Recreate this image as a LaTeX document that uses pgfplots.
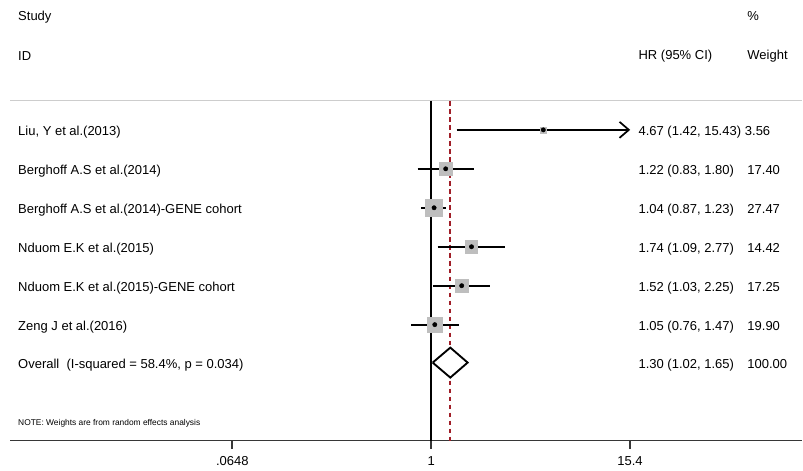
\documentclass[border=0pt]{standalone}
\usepackage{pgfplots}
\pgfplotsset{compat=1.18}
\usepackage{pgfplotstable}
\usepackage{fontspec}
\setmainfont{Liberation Sans}
\usetikzlibrary{arrows.meta}
\definecolor{boxgray}{RGB}{190,190,190}
\definecolor{dashred}{RGB}{160,30,40}
\definecolor{sepgray}{RGB}{205,205,205}
\definecolor{axgray}{RGB}{55,55,55}

% study rows: hr, lower, upper, weight, row position (pixels from top, negative)
\pgfplotstableread{
hr    lo    hi     w      y
4.67  1.42  15.43  3.56   -130
1.22  0.83  1.80   17.40  -169
1.04  0.87  1.23   27.47  -208
1.74  1.09  2.77   14.42  -247
1.52  1.03  2.25   17.25  -286
1.05  0.76  1.47   19.90  -325
}\studies

\begin{document}
\begin{tikzpicture}
\begin{axis}[
  scale only axis,
  width=594.75pt, height=330.75pt,
  xmode=log,
  xmin=0.003048, xmax=164.2,
  ymin=-441, ymax=0,
  axis x line*=bottom,
  axis y line=none,
  x axis line style={axgray, line width=1.3pt},
  xtick={0.0648,1,15.4},
  xticklabels={.0648,1,15.4},
  xminorticks=false,
  tick align=outside,
  major tick length=6pt,
  xtick style={draw=axgray, line width=1.2pt},
  /pgf/number format/assume math mode=true,
  ticklabel style={font=\fontsize{9.75}{11}\selectfont, text=black},
  xticklabel style={yshift=-2.5pt},
  clip=false,
]
% bounding box to reference size
\path (axis cs:0.002656,-471) rectangle (axis cs:164.2,0);

% separator line
\draw[sepgray, line width=0.8pt] (axis cs:0.003048,-101) -- (axis cs:164.2,-101);

% null line and overall estimate line
\addplot[black, line width=1.5pt] coordinates {(1,-101) (1,-441)};
\addplot[dashred, line width=1.3pt, dash pattern=on 3.6pt off 2.4pt] coordinates {(1.30,-101) (1.30,-441)};

% weight boxes (half side proportional to sqrt of weight)
\addplot[only marks, mark=square*, mark size=2.3pt, boxgray] coordinates {(4.67,-130)};
\addplot[only marks, mark=square*, mark size=5.1pt, boxgray] coordinates {(1.22,-169)};
\addplot[only marks, mark=square*, mark size=6.4pt, boxgray] coordinates {(1.04,-208)};
\addplot[only marks, mark=square*, mark size=4.6pt, boxgray] coordinates {(1.74,-247)};
\addplot[only marks, mark=square*, mark size=5.0pt, boxgray] coordinates {(1.52,-286)};
\addplot[only marks, mark=square*, mark size=5.4pt, boxgray] coordinates {(1.05,-325)};

% confidence intervals
\addplot[black, line width=1.4pt, -{Straight Barb[length=7pt, width=12pt, line width=1.3pt]}] coordinates {(1.42,-130) (15.43,-130)};
\addplot[black, line width=1.4pt] coordinates {(0.83,-169) (1.80,-169)};
\addplot[black, line width=1.4pt] coordinates {(0.87,-208) (1.23,-208)};
\addplot[black, line width=1.4pt] coordinates {(1.09,-247) (2.77,-247)};
\addplot[black, line width=1.4pt] coordinates {(1.03,-286) (2.25,-286)};
\addplot[black, line width=1.4pt] coordinates {(0.76,-325) (1.47,-325)};

% point estimates
\addplot[only marks, mark=*, mark size=1.6pt, black] table[x=hr, y=y] {\studies};

% overall diamond
\addplot[black, fill=white, line width=1.4pt, line join=miter] coordinates {(1.02,-363) (1.30,-348) (1.65,-363) (1.30,-378) (1.02,-363)};

% text
\begin{scope}[every node/.style={font=\fontsize{9.75}{11}\selectfont, anchor=west, inner sep=0pt, text=black, text height=0.75em, text depth=0.2em, yshift=-1.5pt}]
\node at (axis cs:0.003401,-15) {Study};
\node at (axis cs:0.003401,-55) {ID};
\node at (axis cs:77.13,-15) {\%};
\node at (axis cs:77.13,-54) {Weight};
\node at (axis cs:17.26,-54) {HR (95\% CI)};

\node at (axis cs:0.003401,-130) {Liu, Y et al.(2013)};
\node at (axis cs:0.003401,-169) {Berghoff A.S et al.(2014)};
\node at (axis cs:0.003401,-208) {Berghoff A.S et al.(2014)-GENE cohort};
\node at (axis cs:0.003401,-247) {Nduom E.K et al.(2015)};
\node at (axis cs:0.003401,-286) {Nduom E.K et al.(2015)-GENE cohort};
\node at (axis cs:0.003401,-325) {Zeng J et al.(2016)};
\node at (axis cs:0.003401,-363) {Overall\ \ (I-squared = 58.4\%, p = 0.034)};

\node at (axis cs:17.26,-130) {4.67 (1.42, 15.43)};
\node at (axis cs:17.26,-169) {1.22 (0.83, 1.80)};
\node at (axis cs:17.26,-208) {1.04 (0.87, 1.23)};
\node at (axis cs:17.26,-247) {1.74 (1.09, 2.77)};
\node at (axis cs:17.26,-286) {1.52 (1.03, 2.25)};
\node at (axis cs:17.26,-325) {1.05 (0.76, 1.47)};
\node at (axis cs:17.26,-363) {1.30 (1.02, 1.65)};

\node at (axis cs:74.5,-130) {3.56};
\node at (axis cs:77.13,-169) {17.40};
\node at (axis cs:77.13,-208) {27.47};
\node at (axis cs:77.13,-247) {14.42};
\node at (axis cs:77.13,-286) {17.25};
\node at (axis cs:77.13,-325) {19.90};
\node at (axis cs:77.13,-363) {100.00};

\node[font=\fontsize{6.3}{7}\selectfont] at (axis cs:0.003401,-420) {NOTE: Weights are from random effects analysis};
\end{scope}
\end{axis}
\end{tikzpicture}
\end{document}
